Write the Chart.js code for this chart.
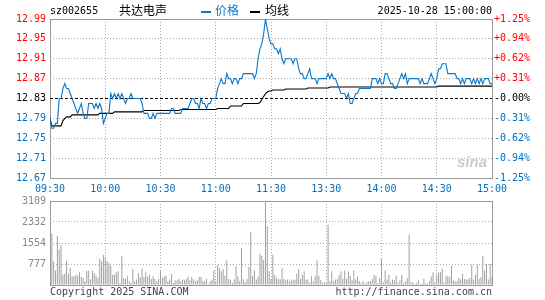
<!DOCTYPE html>
<html><head><meta charset="utf-8">
<script src="https://cdn.jsdelivr.net/npm/chart.js@4"></script>
<style>
html,body{margin:0;padding:0;background:#fff;width:545px;height:300px;overflow:hidden;position:relative}
.t{position:absolute;white-space:nowrap;font-family:"DejaVu Sans Mono",monospace;font-size:10px;line-height:12px;color:#000}
.c{position:absolute;white-space:nowrap;font-family:"Noto Sans CJK SC",sans-serif;font-size:12px;line-height:14px}
#c1{position:absolute;left:0;top:0;width:545px;height:200px}
#c2{position:absolute;left:0;top:190px;width:545px;height:110px}
</style></head><body>
<canvas id="c1" width="545" height="200"></canvas>
<canvas id="c2" width="545" height="110"></canvas>
<div class="t" style="left:50px;top:5px">sz002655</div>
<div class="c" style="left:119px;top:3px">共达电声</div>
<div style="position:absolute;left:201px;top:11px;width:10px;height:2px;background:#0a78c8"></div>
<div class="c" style="left:215px;top:3px;color:#0a78c8">价格</div>
<div style="position:absolute;left:250px;top:11px;width:10px;height:2px;background:#000"></div>
<div class="c" style="left:265px;top:3px">均线</div>
<div class="t" style="right:53px;top:5px">2025-10-28 15:00:00</div>
<div class="t" style="left:50px;top:286px;color:#444">Copyright 2025 SINA.COM</div>
<div class="t" style="right:53px;top:286px;color:#444">http://finance.sina.com.cn</div>
<div style="position:absolute;left:457px;top:153px;font-family:'Liberation Sans',sans-serif;font-style:italic;font-weight:bold;font-size:15px;color:rgba(160,160,160,0.55)">sina</div>
<script>
const prevClose = 12.83;
const timeTicks = [0,30,60,90,120,150,180,210,240];
const timeLabels = ['09:30','10:00','10:30','11:00','11:30','13:30','14:00','14:30','15:00'];
const priceTicks = [12.67,12.71,12.75,12.79,12.83,12.87,12.91,12.95,12.99];
const pctLabels = ['-1.25%','-0.94%','-0.62%','-0.31%','-0.00%','+0.31%','+0.62%','+0.94%','+1.25%'];
const volTicks = [0,777,1554,2332,3109];

const price = [
12.79,12.77,12.77,12.78,12.78,12.83,12.83,12.85,12.86,12.85,
12.85,12.84,12.83,12.82,12.81,12.80,12.81,12.82,12.80,12.79,
12.79,12.82,12.82,12.82,12.81,12.82,12.81,12.82,12.81,12.78,
12.79,12.80,12.80,12.84,12.83,12.84,12.83,12.84,12.83,12.84,
12.83,12.82,12.83,12.83,12.84,12.83,12.83,12.83,12.83,12.83,
12.82,12.80,12.80,12.80,12.79,12.79,12.80,12.79,12.80,12.80,
12.80,12.80,12.80,12.80,12.80,12.80,12.81,12.81,12.80,12.80,
12.80,12.80,12.81,12.81,12.81,12.81,12.82,12.83,12.83,12.82,
12.82,12.81,12.83,12.82,12.82,12.81,12.82,12.82,12.83,12.83,
12.83,12.85,12.86,12.87,12.86,12.86,12.88,12.87,12.87,12.86,
12.87,12.87,12.86,12.87,12.87,12.88,12.88,12.88,12.88,12.88,
12.88,12.87,12.88,12.91,12.93,12.94,12.96,12.99,12.97,12.95,12.94,
12.94,12.93,12.93,12.92,12.93,12.91,12.90,12.91,12.91,12.91,
12.91,12.90,12.91,12.91,12.89,12.88,12.88,12.87,12.87,12.88,
12.89,12.87,12.87,12.87,12.86,12.87,12.87,12.87,12.87,12.87,
12.88,12.87,12.88,12.87,12.87,12.86,12.85,12.84,12.84,12.84,
12.83,12.84,12.82,12.82,12.83,12.84,12.84,12.85,12.85,12.85,
12.85,12.85,12.85,12.85,12.87,12.87,12.87,12.86,12.87,12.86,
12.86,12.88,12.88,12.87,12.86,12.86,12.85,12.85,12.86,12.87,
12.88,12.87,12.88,12.86,12.87,12.87,12.87,12.87,12.87,12.87,
12.86,12.87,12.86,12.86,12.86,12.87,12.88,12.87,12.86,12.87,
12.89,12.89,12.90,12.90,12.90,12.88,12.88,12.88,12.88,12.88,
12.87,12.87,12.86,12.87,12.86,12.87,12.87,12.87,12.86,12.87,
12.86,12.87,12.86,12.87,12.86,12.87,12.87,12.87,12.86,12.86
];

const avg = [
12.79,12.775,12.775,12.775,12.775,12.775,12.775,12.785,12.79,12.793,
12.793,12.793,12.797,12.797,12.797,12.797,12.797,12.797,12.797,12.797,
12.797,12.797,12.797,12.797,12.797,12.797,12.797,12.80,12.80,12.80,
12.80,12.80,12.80,12.80,12.80,12.803,12.803,12.803,12.803,12.803,
12.803,12.803,12.803,12.803,12.803,12.803,12.803,12.803,12.803,12.803,
12.803,12.806,12.806,12.806,12.806,12.806,12.806,12.806,12.806,12.806,
12.806,12.806,12.806,12.806,12.806,12.806,12.806,12.806,12.806,12.806,
12.806,12.808,12.808,12.808,12.808,12.808,12.808,12.808,12.808,12.808,
12.808,12.808,12.808,12.808,12.808,12.808,12.808,12.808,12.808,12.808,
12.808,12.81,12.81,12.81,12.81,12.81,12.81,12.81,12.815,12.815,
12.815,12.815,12.815,12.815,12.815,12.82,12.82,12.82,12.82,12.82,
12.82,12.82,12.82,12.82,12.822,12.828,12.834,12.84,12.843,12.845,12.845,
12.847,12.847,12.847,12.847,12.847,12.847,12.847,12.849,12.849,12.849,
12.849,12.849,12.849,12.849,12.849,12.849,12.849,12.849,12.849,12.851,
12.851,12.851,12.851,12.851,12.851,12.851,12.851,12.851,12.851,12.851,
12.851,12.853,12.853,12.853,12.853,12.853,12.853,12.853,12.853,12.853,
12.853,12.853,12.853,12.853,12.853,12.853,12.853,12.853,12.853,12.853,
12.853,12.853,12.853,12.853,12.853,12.853,12.853,12.853,12.853,12.853,
12.853,12.853,12.853,12.853,12.853,12.853,12.853,12.853,12.853,12.853,
12.853,12.853,12.853,12.853,12.853,12.853,12.853,12.853,12.853,12.853,
12.853,12.853,12.853,12.853,12.853,12.853,12.853,12.853,12.853,12.853,
12.855,12.855,12.855,12.855,12.855,12.855,12.855,12.855,12.855,12.855,
12.855,12.855,12.855,12.855,12.855,12.855,12.855,12.855,12.855,12.855,
12.855,12.855,12.855,12.855,12.855,12.855,12.855,12.855,12.855,12.855
];

const volume = [
1490,1900,875,540,1825,1310,1490,380,420,900,
410,630,320,320,380,350,470,300,260,135,
530,530,200,530,445,345,260,975,875,1120,
1040,875,815,715,380,380,470,505,75,1085,
260,220,345,135,75,590,135,200,445,300,
590,300,470,300,380,220,320,220,135,220,
505,260,320,345,135,200,420,75,175,175,
220,135,200,175,220,320,175,300,200,135,
175,300,300,135,135,220,50,135,200,540,
135,750,630,505,590,345,910,220,175,75,
200,690,320,135,1370,200,100,220,665,1950,
345,540,200,320,1160,1085,935,3100,2170,505,
200,1120,380,260,220,200,630,220,175,200,
135,200,175,200,420,590,220,380,505,200,
200,75,320,135,345,910,345,175,75,100,
75,2230,135,505,135,200,220,380,505,220,
540,220,505,320,175,540,200,320,135,75,
135,50,100,135,135,220,380,345,75,260,
960,100,540,200,380,100,200,175,345,75,
175,380,75,135,260,1860,100,100,50,75,
175,50,50,220,75,50,135,320,470,100,
380,470,470,590,75,320,345,300,715,175,
135,135,260,200,420,220,200,200,260,750,
200,380,750,220,300,1085,540,790,200,790,
300
];

const BLUE = '#0a78c8';
const LBLUE = '#0070c0';
const RED = '#ff0000';
const GRID = '#aaaaaa';
const FRAME = '#999999';
const monoFont = {family: 'DejaVu Sans Mono', size: 10};

const frame = {
  id: 'frame',
  beforeDatasetsDraw(chart) {
    const {ctx, chartArea: a} = chart;
    ctx.save();
    ctx.strokeStyle = FRAME;
    ctx.lineWidth = 1;
    ctx.strokeRect(Math.round(a.left) + 0.5, Math.round(a.top) + 0.5,
                   Math.round(a.right - a.left), Math.round(a.bottom - a.top));
    ctx.restore();
  }
};

function tickColor(v) {
  if (Math.abs(v - prevClose) < 1e-6) return '#000';
  return v > prevClose ? RED : LBLUE;
}
const edgeOrGrid = (ctx, n) => (ctx.index === 0 || ctx.index === n - 1) ? 'rgba(0,0,0,0)' : GRID;

new Chart(document.getElementById('c1'), {
  type: 'line',
  data: {
    datasets: [
      {data: price.map((v, i) => ({x: i, y: v})), borderColor: BLUE, borderWidth: 1.1, pointRadius: 0, tension: 0},
      {data: avg.map((v, i) => ({x: i, y: v})), borderColor: '#000', borderWidth: 1.1, pointRadius: 0, tension: 0},
      {data: [{x: timeTicks[0], y: prevClose}, {x: timeTicks[timeTicks.length - 1], y: prevClose}],
       borderColor: '#000', borderWidth: 1, borderDash: [3, 2], pointRadius: 0}
    ]
  },
  options: {
    responsive: false, animation: false, events: [],
    layout: {padding: {top: 19, left: 0, right: 0, bottom: 0}},
    plugins: {legend: {display: false}, tooltip: {enabled: false}},
    scales: {
      x: {
        type: 'linear', min: 0, max: 240,
        afterBuildTicks: s => { s.ticks = timeTicks.map(v => ({value: v})); },
        afterFit: s => { s.height = 22; },
        ticks: {callback: (v, i) => timeLabels[i], color: LBLUE, font: monoFont, padding: 5, maxRotation: 0, autoSkip: false},
        grid: {color: ctx => edgeOrGrid(ctx, timeTicks.length), drawTicks: false},
        border: {display: false, dash: [1, 2]}
      },
      y: {
        position: 'left', min: 12.67, max: 12.99,
        afterBuildTicks: s => { s.ticks = priceTicks.map(v => ({value: v})); },
        afterFit: s => { s.width = 50; },
        ticks: {callback: v => v.toFixed(2), color: ctx => tickColor(ctx.tick.value), font: monoFont, padding: 4},
        grid: {color: ctx => (ctx.index === 0 || ctx.index === priceTicks.length - 1 || (ctx.tick && Math.abs(ctx.tick.value - prevClose) < 1e-6)) ? 'rgba(0,0,0,0)' : GRID, drawTicks: false},
        border: {display: false, dash: [1, 2]}
      },
      pct: {
        position: 'right', min: 12.67, max: 12.99,
        afterBuildTicks: s => { s.ticks = priceTicks.map(v => ({value: v})); },
        afterFit: s => { s.width = 53; },
        ticks: {callback: (v, i) => pctLabels[i], color: ctx => tickColor(ctx.tick.value), font: monoFont, padding: 2},
        grid: {display: false, drawTicks: false},
        border: {display: false}
      }
    }
  },
  plugins: [frame]
});

new Chart(document.getElementById('c2'), {
  type: 'bar',
  data: {
    datasets: [
      {data: volume.map((v, i) => ({x: i, y: v})), backgroundColor: '#a0a0a0', borderWidth: 0, barThickness: 1, inflateAmount: 0}
    ]
  },
  options: {
    responsive: false, animation: false, events: [],
    layout: {padding: {top: 11, left: 0, right: 53, bottom: 0}},
    plugins: {legend: {display: false}, tooltip: {enabled: false}},
    scales: {
      x: {
        type: 'linear', min: 0, max: 240, offset: false,
        afterBuildTicks: s => { s.ticks = timeTicks.map(v => ({value: v})); },
        afterFit: s => { s.height = 15; },
        ticks: {display: false},
        grid: {offset: false, color: ctx => edgeOrGrid(ctx, timeTicks.length), drawTicks: false},
        border: {display: false, dash: [1, 2]}
      },
      y: {
        position: 'left', min: 0, max: 3109,
        afterBuildTicks: s => { s.ticks = volTicks.map(v => ({value: v})); },
        afterFit: s => { s.width = 50; },
        ticks: {callback: v => v === 0 ? '' : String(v), color: '#888888', font: monoFont, padding: 4},
        grid: {color: ctx => edgeOrGrid(ctx, volTicks.length), drawTicks: false},
        border: {display: false, dash: [1, 2]}
      }
    }
  },
  plugins: [frame]
});
</script>
</body></html>
